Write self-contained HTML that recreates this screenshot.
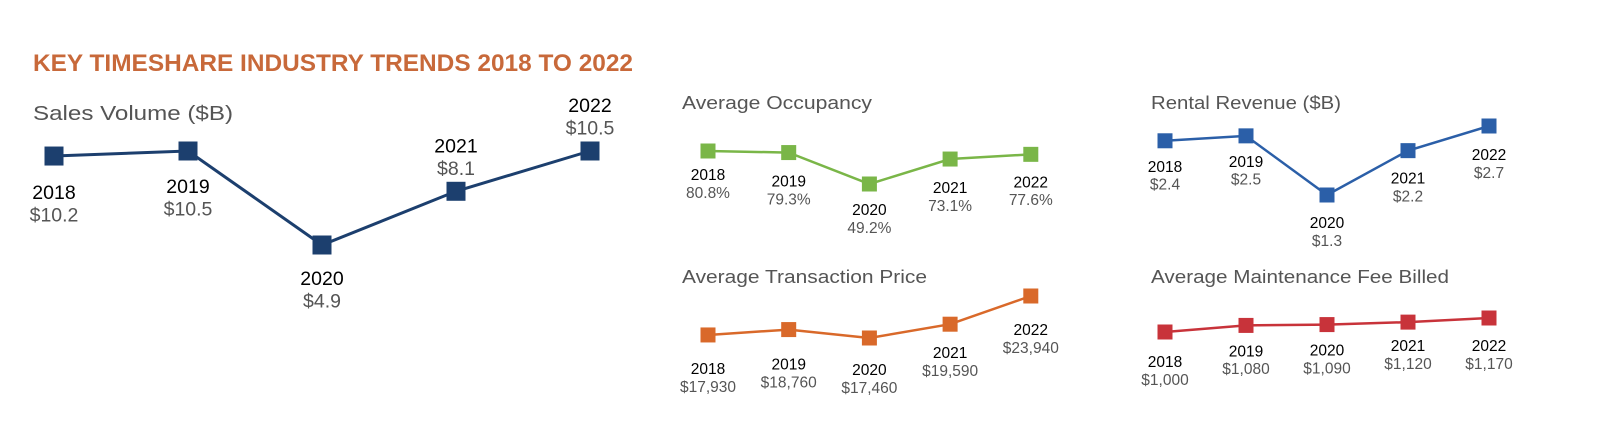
<!DOCTYPE html>
<html><head><meta charset="utf-8"><style>
body{margin:0;width:1600px;height:434px;background:#fff;overflow:hidden;font-family:"Liberation Sans",sans-serif}
svg{position:absolute;left:0;top:0}
</style></head><body>
<svg id="c" width="1600" height="434">
<text x="33" y="71" font-size="24" font-weight="bold" fill="#c8693a" textLength="600" lengthAdjust="spacingAndGlyphs">KEY TIMESHARE INDUSTRY TRENDS 2018 TO 2022</text>
</svg>
<script>
const years=["2018","2019","2020","2021","2022"];
const salesVals=[10.2,10.5,4.9,8.1,10.5];
const salesLabels=["$10.2","$10.5","$4.9","$8.1","$10.5"];
const occVals=[80.8,79.3,49.2,73.1,77.6];
const occLabels=["80.8%","79.3%","49.2%","73.1%","77.6%"];
const priceVals=[17930,18760,17460,19590,23940];
const priceLabels=["$17,930","$18,760","$17,460","$19,590","$23,940"];
const rentVals=[2.4,2.5,1.3,2.2,2.7];
const rentLabels=["$2.4","$2.5","$1.3","$2.2","$2.7"];
const feeVals=[1000,1080,1090,1120,1170];
const feeLabels=["$1,000","$1,080","$1,090","$1,120","$1,170"];

const svg=document.getElementById('c');
const NS='http://www.w3.org/2000/svg';
function mk(tag,attrs){const e=document.createElementNS(NS,tag);for(const k in attrs)e.setAttribute(k,attrs[k]);svg.appendChild(e);return e;}
function chart(id,title,tx,ty,tfs,tlen,vals,labels,x0,dx,v1,y1,v2,y2,color,ms,lw,fs,pos){
  const t=mk('text',{x:tx,y:ty,'font-size':tfs,fill:'#555',textLength:tlen,lengthAdjust:'spacingAndGlyphs'});t.textContent=title;
  
  
  const xs=i=>x0+i*dx;
  const ys=v=>y1+(v-v1)*(y2-y1)/(v2-v1);
  const pts=vals.map((v,i)=>xs(i)+','+ys(v)).join(' ');
  const pl=mk('polyline',{points:pts,fill:'none',stroke:color,'stroke-width':lw});
  
  
  vals.forEach((v,i)=>{
    const x=xs(i),y=ys(v);
    const r=mk('rect',{x:x-ms/2,y:y-ms/2,width:ms,height:ms,fill:color});
    
    
    const above=pos[i]<0;
    const yy=above? y-ms/2-fs*1.2-6 : y+ms/2+fs+pos[i];
    const a=mk('text',{x:x,y:yy,'font-size':fs,'text-anchor':'middle',fill:'#000'});a.textContent=years[i];
    
    
    const b=mk('text',{x:x,y:yy+fs*1.15,'font-size':fs,'text-anchor':'middle',fill:'#555'});b.textContent=labels[i];
    
    
  });
}
chart('sales-volume','Sales Volume ($B)',33,120,20,200,salesVals,salesLabels,54,134,10.5,151,4.9,245,'#1c3f6e',19,3,19.5,[14,13,11,-1,-1]);
chart('average-occupancy','Average Occupancy',682,109,18,190,occVals,occLabels,708,80.7,80.8,151,49.2,184,'#7ab648',15,2.5,15.5,[6,11,8,11,10]);
chart('average-transaction-price','Average Transaction Price',682,283,18,245,priceVals,priceLabels,708,80.7,17460,338,23940,296,'#d9692a',15,2.5,15.5,[16,17,14,11,16]);
chart('rental-revenue','Rental Revenue ($B)',1151,109,18,190,rentVals,rentLabels,1165,81,1.3,195,2.7,126,'#2b5fa8',15,2.5,15.5,[8,8,10,10,11]);
chart('maintenance-fee','Average Maintenance Fee Billed',1151,283,18,298,feeVals,feeLabels,1165,81,1000,332,1170,318,'#c8333a',15,2.5,15.5,[12,8,8,6,10]);
</script>
</body></html>
